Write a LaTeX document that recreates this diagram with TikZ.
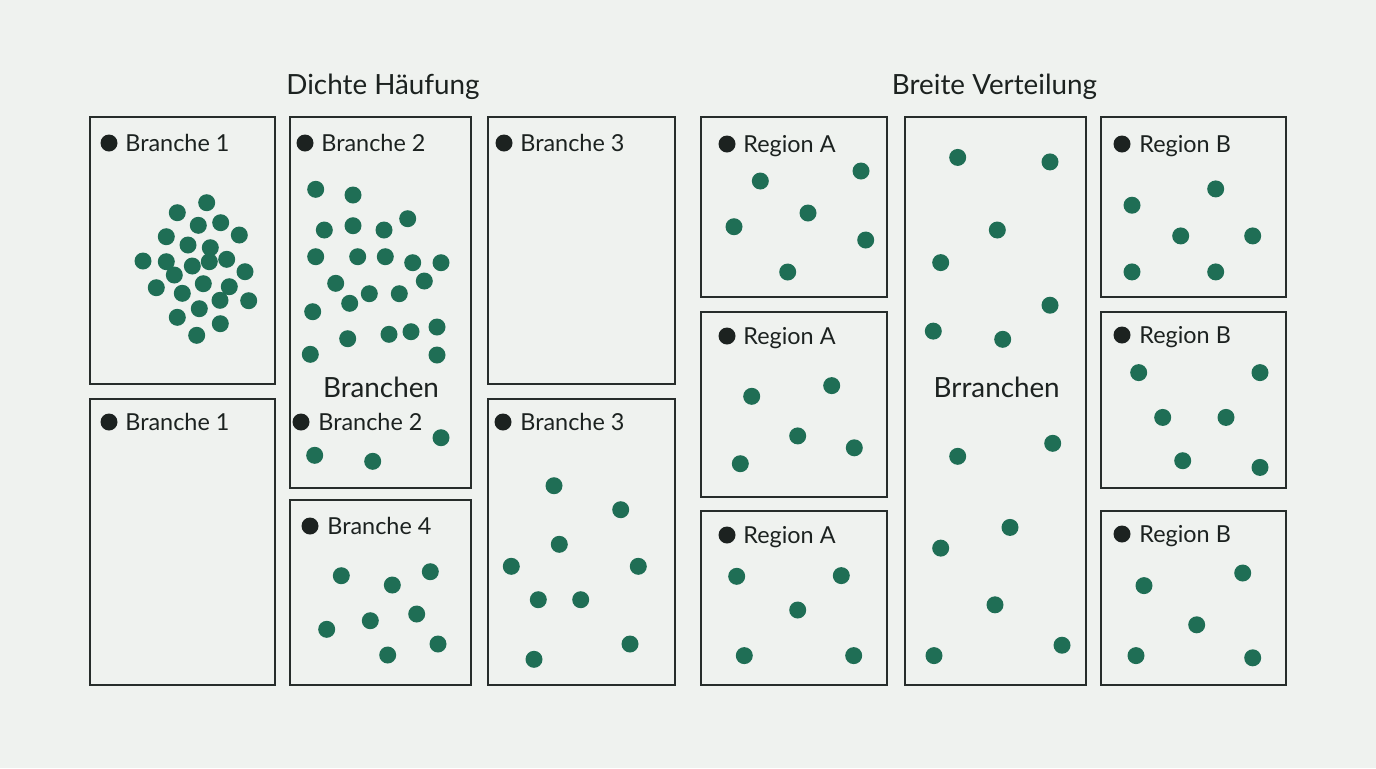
\documentclass[tikz,border=0pt]{standalone}
\usepackage{fontspec}
\setmainfont{Lato}
\usepackage{tikz}
\usetikzlibrary{positioning}
\definecolor{dh-bg}{HTML}{EFF2EF}
\definecolor{dh-ink}{HTML}{1C2220}
\definecolor{dh-frame}{HTML}{272D2B}
\definecolor{dh-dot}{HTML}{1F6E55}

\begin{document}
\begin{tikzpicture}[x=0.5pt, y=-0.5pt,
    panel/.style={draw=dh-frame, line width=1.1pt},
    pt/.style={fill=dh-dot},
    key/.style={fill=dh-ink},
    lbl/.style={anchor=base west, inner sep=0pt, text=dh-ink, font=\fontsize{11.7}{13}\selectfont},
    head/.style={anchor=base, inner sep=0pt, text=dh-ink, font=\fontsize{13.9}{16}\selectfont}]

    % Hintergrund und Rahmen des Bildes
    \fill[dh-bg] (0,0) rectangle (1376,768);
    \useasboundingbox (0,0) rectangle (1376,768);

    % Ueberschriften
    \node[head] (t_dicht) at (383,94) {Dichte Häufung};
    \node[head] (t_breit) at (994.5,94) {Breite Verteilung};

    % --- LINKE SEITE: Dichte Haeufung ---
    \draw[panel] (90,117) rectangle (275,384);
    \draw[panel] (90,399) rectangle (275,685);
    \draw[panel] (290,117) rectangle (471,488);
    \draw[panel] (290,500) rectangle (471,685);
    \draw[panel] (488,117) rectangle (675,384);
    \draw[panel] (488,399) rectangle (675,685);

    % Beschriftungen links
    \fill[key] (109,143) circle (4.25pt);
    \node[lbl] (b1_oben) at (125,151) {Branche 1};
    \fill[key] (109,422) circle (4.25pt);
    \node[lbl] (b1_unten) at (125,430) {Branche 1};
    \fill[key] (305,143) circle (4.25pt);
    \node[lbl] (b2_oben) at (321,151) {Branche 2};
    \fill[key] (301,422) circle (4.25pt);
    \node[lbl] (b2_unten) at (318,430) {Branche 2};
    \fill[key] (310,526) circle (4.25pt);
    \node[lbl] (b4) at (327,534) {Branche 4};
    \fill[key] (504,143) circle (4.25pt);
    \node[lbl] (b3_oben) at (520,151) {Branche 3};
    \fill[key] (503,422) circle (4.25pt);
    \node[lbl] (b3_unten) at (520,430) {Branche 3};
    \node[head] (br_links) at (381,397) {Branchen};

    % Punktwolke Branche 1 (dicht)
    \fill[pt] (206.7,202.7) circle (4.25pt) (177.3,212.7) circle (4.25pt)
        (198.3,225.3) circle (4.25pt) (220.7,222.7) circle (4.25pt)
        (166.3,236.7) circle (4.25pt) (239.3,235) circle (4.25pt)
        (188,245) circle (4.25pt) (210.3,247.7) circle (4.25pt)
        (143,261) circle (4.25pt) (166.3,261.7) circle (4.25pt)
        (192.3,266) circle (4.25pt) (209.3,261.7) circle (4.25pt)
        (226.7,259.3) circle (4.25pt) (174.3,275) circle (4.25pt)
        (245,271.7) circle (4.25pt) (156.3,287.7) circle (4.25pt)
        (182.3,293.3) circle (4.25pt) (203.3,283.7) circle (4.25pt)
        (229.3,286.7) circle (4.25pt) (220,300.3) circle (4.25pt)
        (248.7,300.7) circle (4.25pt) (177.3,317.3) circle (4.25pt)
        (199.3,308.7) circle (4.25pt) (220.3,323.7) circle (4.25pt)
        (196.7,335.3) circle (4.25pt);

    % Punkte Branche 2
    \fill[pt] (315.7,189.3) circle (4.25pt) (353,195) circle (4.25pt)
        (324.3,230) circle (4.25pt) (353,225.7) circle (4.25pt)
        (384,230) circle (4.25pt) (407.7,218.7) circle (4.25pt)
        (315.7,256.7) circle (4.25pt) (357.7,256.7) circle (4.25pt)
        (385.3,256.7) circle (4.25pt) (412.7,262.7) circle (4.25pt)
        (441,262.7) circle (4.25pt) (335.7,283.3) circle (4.25pt)
        (424.3,281) circle (4.25pt) (369.3,293.7) circle (4.25pt)
        (399.3,293.7) circle (4.25pt) (349.7,303.3) circle (4.25pt)
        (312.7,311.7) circle (4.25pt) (347.7,338.7) circle (4.25pt)
        (389,334.3) circle (4.25pt) (411,331.7) circle (4.25pt)
        (437,327) circle (4.25pt) (310.3,354.3) circle (4.25pt)
        (437,355) circle (4.25pt)
        (441,437.7) circle (4.25pt) (314.7,455.3) circle (4.25pt)
        (372.7,461.3) circle (4.25pt);

    % Punkte Branche 4
    \fill[pt] (341.3,575.7) circle (4.25pt) (392.3,585) circle (4.25pt)
        (430.3,571.7) circle (4.25pt) (326.7,629.3) circle (4.25pt)
        (370.3,620.7) circle (4.25pt) (416.7,614) circle (4.25pt)
        (438,644) circle (4.25pt) (387.7,655) circle (4.25pt);

    % Punkte Branche 3 (unten)
    \fill[pt] (554,485.7) circle (4.25pt) (620.7,509.7) circle (4.25pt)
        (559.3,544.3) circle (4.25pt) (511.3,566.3) circle (4.25pt)
        (638.3,566.3) circle (4.25pt) (538.3,599.7) circle (4.25pt)
        (580.7,599.7) circle (4.25pt) (630,644) circle (4.25pt)
        (534,659.3) circle (4.25pt);

    % --- RECHTE SEITE: Breite Verteilung ---
    \draw[panel] (701,117) rectangle (887,297);
    \draw[panel] (701,312) rectangle (887,497);
    \draw[panel] (701,511) rectangle (887,685);
    \draw[panel] (905,117) rectangle (1086,685);
    \draw[panel] (1101,117) rectangle (1286,297);
    \draw[panel] (1101,312) rectangle (1286,488);
    \draw[panel] (1101,511) rectangle (1286,685);

    % Beschriftungen rechts
    \fill[key] (727,144) circle (4.25pt);
    \node[lbl] (ra1) at (743,152) {Region A};
    \fill[key] (727,336) circle (4.25pt);
    \node[lbl] (ra2) at (743,344) {Region A};
    \fill[key] (727,535) circle (4.25pt);
    \node[lbl] (ra3) at (743,543) {Region A};
    \fill[key] (1122,144) circle (4.25pt);
    \node[lbl] (rb1) at (1139,152) {Region B};
    \fill[key] (1122,335) circle (4.25pt);
    \node[lbl] (rb2) at (1139,343) {Region B};
    \fill[key] (1122,534) circle (4.25pt);
    \node[lbl] (rb3) at (1139,542) {Region B};
    \node[head] (br_rechts) at (996.7,397) {Brranchen};

    % Punkte Region A
    \fill[pt] (760.3,181) circle (4.25pt) (861,171) circle (4.25pt)
        (808,213) circle (4.25pt) (734,226.7) circle (4.25pt)
        (865.7,240) circle (4.25pt) (787.7,272) circle (4.25pt);
    \fill[pt] (751.7,396.3) circle (4.25pt) (831.7,385.6) circle (4.25pt)
        (797.7,435.9) circle (4.25pt) (854.3,447.8) circle (4.25pt)
        (740.3,463.7) circle (4.25pt);
    \fill[pt] (736.7,576.3) circle (4.25pt) (841.3,575.6) circle (4.25pt)
        (797.7,610) circle (4.25pt) (744.3,655.6) circle (4.25pt)
        (853.7,655.6) circle (4.25pt);

    % Punkte mittlere Spalte
    \fill[pt] (957.7,157.4) circle (4.25pt) (1050,161.9) circle (4.25pt)
        (997.3,230) circle (4.25pt) (940.7,262.6) circle (4.25pt)
        (1050,305.2) circle (4.25pt) (933.3,331.1) circle (4.25pt)
        (1002.7,339.3) circle (4.25pt) (957.7,456.3) circle (4.25pt)
        (1052.7,443.3) circle (4.25pt) (1010,527.4) circle (4.25pt)
        (940.7,548.1) circle (4.25pt) (995,604.8) circle (4.25pt)
        (1062,645.2) circle (4.25pt) (934,655.6) circle (4.25pt);

    % Punkte Region B
    \fill[pt] (1132,205.2) circle (4.25pt) (1215.7,188.9) circle (4.25pt)
        (1180.7,235.9) circle (4.25pt) (1252.7,235.9) circle (4.25pt)
        (1132,271.9) circle (4.25pt) (1215.7,271.9) circle (4.25pt);
    \fill[pt] (1138.7,372.6) circle (4.25pt) (1260,372.6) circle (4.25pt)
        (1162.7,417.4) circle (4.25pt) (1226,417.4) circle (4.25pt)
        (1182.7,460.7) circle (4.25pt) (1260,467.4) circle (4.25pt);
    \fill[pt] (1144,585.6) circle (4.25pt) (1242.7,573) circle (4.25pt)
        (1196.7,624.8) circle (4.25pt) (1136,655.6) circle (4.25pt)
        (1252.7,657.8) circle (4.25pt);

\end{tikzpicture}
\end{document}
